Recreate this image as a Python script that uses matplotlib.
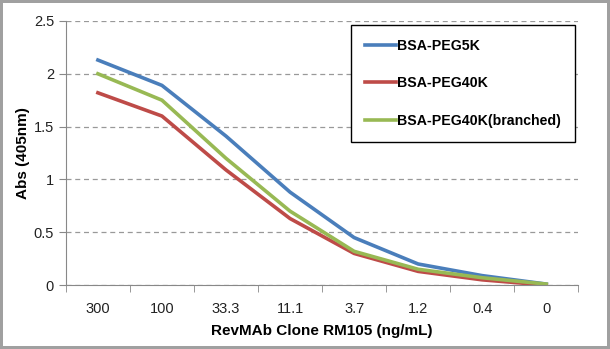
import matplotlib.pyplot as plt
import numpy as np

plt.rcParams['font.family'] = ['Liberation Sans', 'DejaVu Sans']

# dilution series (ng/mL)
conc = ["300", "100", "33.3", "11.1", "3.7", "1.2", "0.4", "0"]
peg5k = [2.13, 1.89, 1.41, 0.88, 0.45, 0.20, 0.09, 0.01]
peg40k = [1.82, 1.60, 1.09, 0.63, 0.30, 0.13, 0.05, 0.00]
peg40k_br = [2.00, 1.75, 1.20, 0.70, 0.32, 0.15, 0.07, 0.01]

fig = plt.figure(figsize=(6.1, 3.49), dpi=100)
fig.patch.set_edgecolor('#a0a0a0')
fig.patch.set_linewidth(3)
ax = fig.add_axes([0.108, 0.183, 0.84, 0.757])

x = np.arange(len(conc))
ax.plot(x, peg5k, color='#4a7ebb', lw=2.6, label='BSA-PEG5K')
ax.plot(x, peg40k, color='#be4b48', lw=2.6, label='BSA-PEG40K')
ax.plot(x, peg40k_br, color='#98b954', lw=2.6, label='BSA-PEG40K(branched)')

ax.set_xlim(-0.5, len(conc) - 0.5)
ax.set_ylim(0, 2.5)
ax.set_yticks([0, 0.5, 1, 1.5, 2, 2.5])
ax.set_yticklabels(['0', '0.5', '1', '1.5', '2', '2.5'])
ax.set_xticks(x)
ax.set_xticklabels(conc)
ax.set_xticks(np.arange(len(conc) + 1) - 0.5, minor=True)
ax.tick_params(axis='x', which='major', length=0, pad=12, labelsize=10.5, colors='#222222')
ax.tick_params(axis='x', which='minor', length=5, color='#888888')
ax.tick_params(axis='y', length=5, color='#888888', labelsize=10.5, labelcolor='#222222')

ax.grid(axis='y', linestyle=(0, (4, 3)), color='#999999', lw=0.9)
ax.set_axisbelow(True)
for s in ['top', 'right']:
    ax.spines[s].set_visible(False)
for s in ['left', 'bottom']:
    ax.spines[s].set_color('#888888')

ax.set_xlabel('RevMAb Clone RM105 (ng/mL)', fontsize=11, fontweight='bold', labelpad=6)
ax.set_ylabel('Abs (405nm)', fontsize=11, fontweight='bold', labelpad=3)

leg = ax.legend(loc='upper right', bbox_to_anchor=(0.994, 0.985), borderaxespad=0,
                fancybox=False, edgecolor='black', framealpha=1, fontsize=10.2,
                handlelength=2.2, handletextpad=0.05, labelspacing=1.65, borderpad=1.0)
leg.get_frame().set_linewidth(1.0)
for t in leg.get_texts():
    t.set_fontweight('bold')

fig.savefig('out.png', dpi=100)
